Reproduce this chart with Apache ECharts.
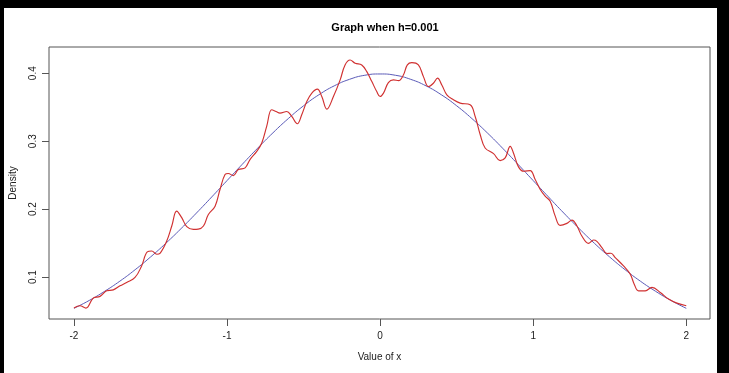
<!DOCTYPE html>
<html>
<head>
<meta charset="utf-8">
<script src="https://cdn.jsdelivr.net/npm/echarts@6/dist/echarts.min.js"></script>
<style>
html,body{margin:0;padding:0;background:#000;}
#chart{width:729px;height:373px;}
</style>
</head>
<body>
<div id="chart"></div>
<script>
// ---- data ----
var titleText = "Graph when h=0.001";
var xTicks = [-2, -1, 0, 1, 2];
var yTicks = [0.1, 0.2, 0.3, 0.4];

// red curve (kernel estimate, h=0.001): x values and densities
var redX = [-2.000,-1.961,-1.922,-1.874,-1.830,-1.786,-1.743,-1.699,-1.656,-1.601,-1.558,-1.521,-1.492,-1.459,-1.438,-1.394,-1.361,-1.329,-1.296,-1.263,-1.220,-1.188,-1.154,-1.122,-1.078,-1.046,-1.013,-0.992,-0.959,-0.926,-0.882,-0.850,-0.806,-0.773,-0.741,-0.708,-0.680,-0.654,-0.610,-0.577,-0.541,-0.512,-0.479,-0.446,-0.410,-0.381,-0.348,-0.305,-0.261,-0.229,-0.196,-0.163,-0.120,-0.087,-0.054,-0.022,0.000,0.022,0.054,0.087,0.120,0.152,0.178,0.207,0.250,0.283,0.316,0.348,0.375,0.403,0.436,0.479,0.523,0.588,0.621,0.654,0.686,0.741,0.784,0.817,0.850,0.871,0.904,0.937,0.980,1.013,1.046,1.078,1.111,1.144,1.176,1.220,1.253,1.286,1.318,1.361,1.394,1.416,1.449,1.482,1.508,1.536,1.590,1.634,1.660,1.688,1.732,1.776,1.830,1.884,1.939,2.000];
var redY = [0.0544,0.0578,0.0544,0.0691,0.0716,0.0798,0.0812,0.0871,0.0921,0.0994,0.1164,0.1370,0.1384,0.1336,0.1350,0.1531,0.1751,0.1971,0.1874,0.1742,0.1702,0.1705,0.1751,0.1922,0.2044,0.2289,0.2509,0.2524,0.2494,0.2582,0.2607,0.2729,0.2850,0.2974,0.3217,0.3462,0.3437,0.3413,0.3437,0.3364,0.3257,0.3389,0.3584,0.3707,0.3765,0.3657,0.3472,0.3657,0.3902,0.4122,0.4195,0.4147,0.4122,0.4023,0.3877,0.3730,0.3657,0.3707,0.3862,0.3902,0.3891,0.3975,0.4122,0.4155,0.4122,0.3950,0.3804,0.3853,0.3927,0.3828,0.3682,0.3609,0.3560,0.3535,0.3364,0.3095,0.2900,0.2817,0.2714,0.2754,0.2924,0.2827,0.2622,0.2557,0.2567,0.2435,0.2289,0.2191,0.2117,0.1897,0.1761,0.1790,0.1839,0.1751,0.1604,0.1497,0.1545,0.1526,0.1434,0.1346,0.1350,0.1287,0.1164,0.1043,0.0896,0.0798,0.0798,0.0848,0.0774,0.0676,0.0617,0.0578];

// blue curve (true density) read at steps of 0.1
var blueX = [-2.0,-1.9,-1.8,-1.7,-1.6,-1.5,-1.4,-1.3,-1.2,-1.1,-1.0,-0.9,-0.8,-0.7,-0.6,-0.5,-0.4,-0.3,-0.2,-0.1,0.0,0.1,0.2,0.3,0.4,0.5,0.6,0.7,0.8,0.9,1.0,1.1,1.2,1.3,1.4,1.5,1.6,1.7,1.8,1.9,2.0];
var blueY = [0.0540,0.0656,0.0790,0.0940,0.1109,0.1295,0.1497,0.1714,0.1942,0.2179,0.2420,0.2661,0.2897,0.3123,0.3332,0.3521,0.3683,0.3814,0.3910,0.3970,0.3989,0.3970,0.3910,0.3814,0.3683,0.3521,0.3332,0.3123,0.2897,0.2661,0.2420,0.2179,0.1942,0.1714,0.1497,0.1295,0.1109,0.0940,0.0790,0.0656,0.0540];

function zip(a, b) { return a.map(function (v, i) { return [v, b[i]]; }); }

var chart = echarts.init(document.getElementById('chart'), null, {renderer: 'canvas'});
var fontFam = '"Liberation Sans", Arial, sans-serif';
chart.setOption({
  backgroundColor: '#000',
  animation: false,
  graphic: [
    {type: 'rect', z: -10, shape: {x: 4, y: 8, width: 713, height: 365}, style: {fill: '#fff'}, silent: true}
  ],
  title: {
    text: titleText, left: 380, top: 17, textAlign: 'center',
    textStyle: {fontFamily: fontFam, fontSize: 11, fontWeight: 'bold', color: '#000'}
  },
  grid: {
    left: 49, right: 19, top: 47, bottom: 54,
    show: true, borderColor: '#555', borderWidth: 1, backgroundColor: 'transparent'
  },
  xAxis: {
    type: 'value', min: -2.163, max: 2.155,
    name: 'Value of x', nameLocation: 'middle', nameGap: 33,
    nameTextStyle: {fontFamily: fontFam, fontSize: 10, color: '#222'},
    axisLine: {show: false, onZero: false},
    axisTick: {show: true, length: 7, customValues: xTicks, lineStyle: {color: '#555'}},
    axisLabel: {customValues: xTicks, margin: 12, fontFamily: fontFam, fontSize: 10, color: '#222',
      formatter: function (v) { return String(Math.round(v)); }},
    splitLine: {show: false}
  },
  yAxis: {
    type: 'value', min: 0.0383, max: 0.4386,
    name: 'Density', nameLocation: 'middle', nameGap: 31, nameRotate: 90,
    nameTextStyle: {fontFamily: fontFam, fontSize: 10, color: '#222'},
    axisLine: {show: false, onZero: false},
    axisTick: {show: true, length: 7, customValues: yTicks, lineStyle: {color: '#555'}},
    axisLabel: {customValues: yTicks, rotate: 90, margin: 11, fontFamily: fontFam, fontSize: 10, color: '#222',
      formatter: function (v) { return v.toFixed(1); }},
    splitLine: {show: false}
  },
  series: [
    {
      type: 'line', data: zip(blueX, blueY), smooth: true, showSymbol: false,
      lineStyle: {color: '#5a5ab8', width: 1}, z: 2
    },
    {
      type: 'line', data: zip(redX, redY), smooth: 0.4, showSymbol: false,
      lineStyle: {color: '#d03030', width: 1.15}, z: 3
    }
  ]
});
</script>
</body>
</html>
